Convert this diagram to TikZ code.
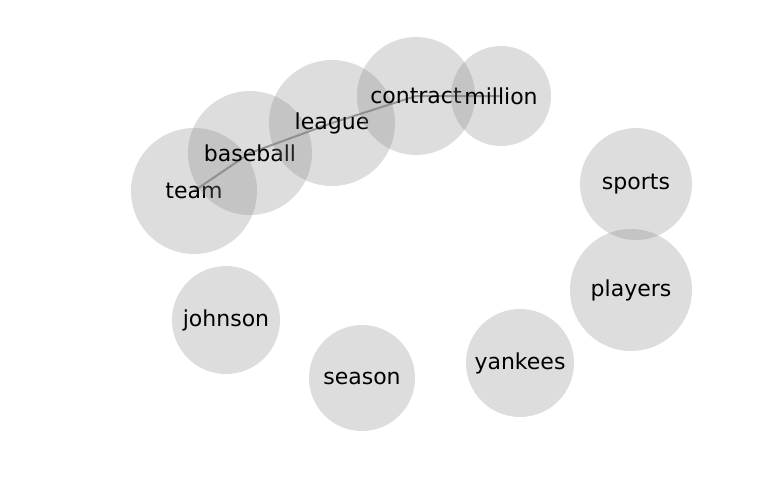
\documentclass[tikz,border=0pt]{standalone}
\usepackage{fontspec}
\setmainfont{DejaVu Sans}

\begin{document}
\begin{tikzpicture}[x=0.5pt,y=-0.5pt,
  word/.style={circle,inner sep=0pt,fill=gray,fill opacity=0.27,text opacity=1,
    font=\fontsize{11}{13}\selectfont},
  link/.style={gray!75,line width=1pt}]
  \useasboundingbox (0,0) rectangle (768,500);

  \foreach \name/\x/\y in {
    team/194/191,
    baseball/250/153,
    league/332/123,
    contract/416/96,
    million/501/96,
    sports/636/184,
    players/631/290,
    johnson/226/320,
    season/362/378,
    yankees/520/363
  }
  {
    \coordinate (\name) at (\x,\y);
  }

  \draw[link] (team) -- (baseball) -- (league) -- (contract) -- (million);

  \foreach \name/\r in {
    team/63,
    baseball/62,
    league/63,
    contract/59,
    million/50,
    sports/56,
    players/61,
    johnson/54,
    season/53,
    yankees/54
  }
  {
    \node[word,minimum size=\r pt] (\name-w) at (\name) {\name};
  }
\end{tikzpicture}
\end{document}
